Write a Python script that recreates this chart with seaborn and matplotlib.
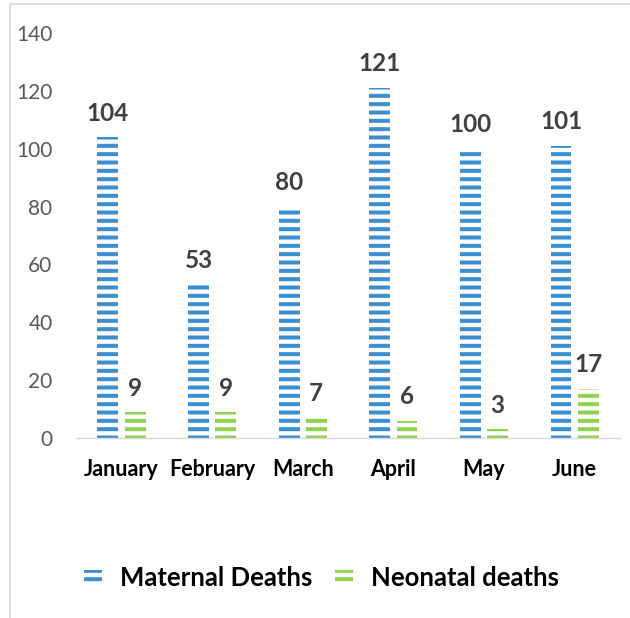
import numpy as np
import pandas as pd
import matplotlib.pyplot as plt
import seaborn as sns
from matplotlib.patches import Patch
from matplotlib.lines import Line2D

# Data
months = ["January", "February", "March", "April", "May", "June"]
maternal = [104, 53, 80, 121, 100, 101]
neonatal = [9, 9, 7, 6, 3, 17]
series = ["Maternal Deaths", "Neonatal deaths"]
colors = ["#3A8FD2", "#92D050"]

df = pd.DataFrame({
    "month": months * 2,
    "deaths": maternal + neonatal,
    "series": [series[0]] * len(months) + [series[1]] * len(months),
})

sns.set_theme(style="white")
plt.rcParams["font.family"] = ["Lato", "DejaVu Sans"]
plt.rcParams["hatch.linewidth"] = 2.9

fig = plt.figure(figsize=(6.3, 6.18), dpi=100)
ax = fig.add_axes([0.121, 0.291, 0.863, 0.656])

sns.barplot(data=df, x="month", y="deaths", hue="series", palette=colors,
            width=0.6, gap=0.23, ax=ax, legend=False)

# striped fill like the original
for container, c in zip(ax.containers, colors):
    for bar in container:
        bar.set_facecolor("white")
        bar.set_edgecolor(c)
        bar.set_hatch("--")
        bar.set_linewidth(0)
    ax.bar_label(container, padding=9, fontsize=17.5, fontweight="bold",
                 color="#404040")

ax.set_ylim(0, 140)
ax.set_yticks(range(0, 141, 20))
ax.set_xlabel("")
ax.set_ylabel("")
ax.tick_params(axis="y", length=0, pad=17, labelsize=15, labelcolor="#595959")
ax.tick_params(axis="x", length=0, pad=15, labelsize=15.5)
for lab in ax.get_xticklabels():
    lab.set_fontweight("bold")
    lab.set_color("black")

for s in ["top", "right", "left"]:
    ax.spines[s].set_visible(False)
ax.spines["bottom"].set_color("#D9D9D9")
ax.spines["bottom"].set_linewidth(1)

handles = [Patch(facecolor="white", edgecolor=c, hatch="--", linewidth=0) for c in colors]
leg = fig.legend(handles, series, loc="center", bbox_to_anchor=(0.51, 0.064),
                 ncol=2, frameon=False, handlelength=0.7, handleheight=0.5,
                 handletextpad=0.7, columnspacing=0.9, fontsize=18.5)
for t in leg.get_texts():
    t.set_fontweight("bold")
    t.set_color("black")

# chart border (top and left visible)
fig.add_artist(Line2D([10 / 630, 10 / 630], [0, 1 - 4 / 618], color="#D9D9D9", lw=1.2))
fig.add_artist(Line2D([10 / 630, 1], [1 - 4 / 618, 1 - 4 / 618], color="#D9D9D9", lw=1.2))

fig.savefig("out.png", dpi=100)
